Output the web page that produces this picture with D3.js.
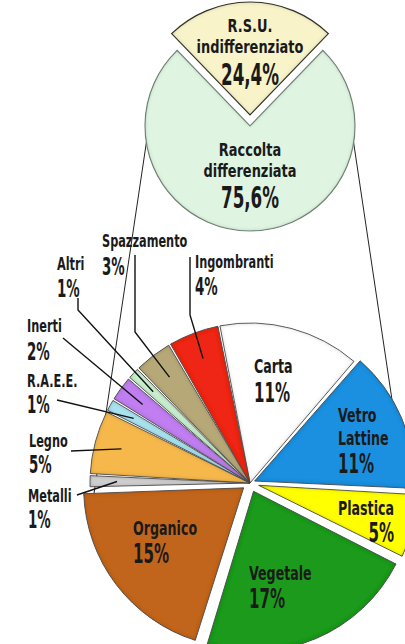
<!DOCTYPE html>
<html>
<head>
<meta charset="utf-8">
<script src="https://cdn.jsdelivr.net/npm/d3@7"></script>
<style>
  body { margin: 0; background: #fff; }
  svg { display: block; }
  text { font-family: "DejaVu Sans Condensed", "DejaVu Sans", sans-serif; font-weight: bold; fill: #1a1a1a; }
</style>
</head>
<body>
<svg width="405" height="644"></svg>
<script>
var svg = d3.select("svg"),
    width = +svg.attr("width"),
    height = +svg.attr("height");

// top pie: total waste
var topNames = [["R.S.U.", "indifferenziato"], ["Raccolta", "differenziata"]];
var topValues = [24.4, 75.6];
var topPct = ["24,4%", "75,6%"];
var topColors = ["#f8f3c8", "#dff5e2"];

// bottom pie: breakdown of raccolta differenziata (% of total)
var categories = ["Carta", "Vetro Lattine", "Plastica", "Vegetale", "Organico", "Metalli",
                  "Legno", "R.A.E.E.", "Inerti", "Altri", "Spazzamento", "Ingombranti"];
var values = [11, 11, 5, 17, 15, 1, 5, 1, 2, 1, 3, 4];
var colors = ["#ffffff", "#1e90e0", "#ffff00", "#1a9a1a", "#c2651f", "#cfcfcf",
              "#f6b84c", "#a9e3f0", "#c07ef0", "#c9efcf", "#b7a878", "#ef2814"];

var topC = {x: 250, y: 126}, topR = 105;
var botC = {x: 250, y: 483}, botR = 160;
var deg = Math.PI / 180;

// how far some slices are pulled out
var explode = [0, 5, 9, 9, 8, 0, 0, 0, 0, 0, 0, 0];

// the font in the picture is a narrow DIN-like face: squeeze text horizontally
var nameSqueeze = 0.74, pctSqueeze = 0.62;

function putText(sel, x, y, size, squeeze, str) {
  sel.append("text")
    .attr("transform", "translate(" + x + "," + y + ") scale(" + squeeze + ",1)")
    .attr("font-size", size)
    .text(str);
}

var defs = svg.append("defs");
var f = defs.append("filter").attr("id", "bevel")
    .attr("x", "-5%").attr("y", "-5%").attr("width", "110%").attr("height", "110%");
f.append("feGaussianBlur").attr("in", "SourceAlpha").attr("stdDeviation", 2.2).attr("result", "blur");
f.append("feComposite").attr("in", "SourceAlpha").attr("in2", "blur")
    .attr("operator", "arithmetic").attr("k2", 1).attr("k3", -1).attr("result", "edge");
f.append("feFlood").attr("flood-color", "#000").attr("flood-opacity", 0.5);
f.append("feComposite").attr("in2", "edge").attr("operator", "in").attr("result", "shade");
var fm = f.append("feMerge");
fm.append("feMergeNode").attr("in", "SourceGraphic");
fm.append("feMergeNode").attr("in", "shade");

// connector lines (outer tangents between both circles), a bit longer at the top
var dist = botC.y - topC.y;
var th = Math.asin((botR - topR) / dist);
[-1, 1].forEach(function(s) {
  var nx = s * Math.cos(th), ny = Math.sin(th);
  var dx = -s * Math.sin(th) * -1, dy = Math.cos(th);
  var x1 = topC.x + nx * topR, y1 = topC.y + ny * topR;
  svg.append("line")
    .attr("x1", x1 - s * Math.sin(th) * 26).attr("y1", y1 - dy * 26)
    .attr("x2", botC.x + nx * botR).attr("y2", botC.y + ny * botR)
    .attr("stroke", "#222").attr("stroke-width", 1);
});

// top pie
var rsuAngle = 360 * topValues[0] / 100;
var topPie = d3.pie().sort(null)
    .startAngle(-rsuAngle / 2 * deg)
    .endAngle((360 - rsuAngle / 2) * deg);
var topRadius = [113, topR];
var topExplode = [11, 0];

svg.append("g")
    .attr("transform", "translate(" + topC.x + "," + topC.y + ")")
  .selectAll("path")
  .data(topPie(topValues))
  .enter().append("path")
    .attr("d", function(d, i) {
      return d3.arc().innerRadius(0).outerRadius(topRadius[i])(d);
    })
    .attr("transform", function(d, i) {
      var a = (d.startAngle + d.endAngle) / 2;
      return "translate(" + (topExplode[i] * Math.sin(a)) + "," + (-topExplode[i] * Math.cos(a)) + ")";
    })
    .attr("fill", function(d, i) { return topColors[i]; })
    .attr("stroke", function(d, i) { return i ? "#7d8f80" : "#3a3a30"; })
    .attr("stroke-width", 1.2)
    .attr("filter", "url(#bevel)");

var topText = svg.append("g").attr("text-anchor", "middle");
putText(topText, topC.x, 32, 18, 0.8, topNames[0][0]);
putText(topText, topC.x, 53, 18, 0.8, topNames[0][1]);
putText(topText, topC.x, 85, 30, pctSqueeze, topPct[0]);
putText(topText, topC.x, 156, 18, 0.8, topNames[1][0]);
putText(topText, topC.x, 177, 18, 0.8, topNames[1][1]);
putText(topText, topC.x, 208, 30, pctSqueeze, topPct[1]);

// bottom pie
var start = -11.2 * deg;
var pie = d3.pie().sort(null).startAngle(start).endAngle(start + 2 * Math.PI);
var arc = d3.arc().innerRadius(0).outerRadius(botR).padAngle(0.013).padRadius(botR);
var leaderArc = d3.arc().innerRadius(133).outerRadius(133);
var slices = pie(values);

var gBot = svg.append("g")
    .attr("transform", "translate(" + botC.x + "," + botC.y + ")");

gBot.selectAll("path")
  .data(slices)
  .enter().append("path")
    .attr("d", arc)
    .attr("transform", function(d, i) {
      var a = (d.startAngle + d.endAngle) / 2;
      return "translate(" + (explode[i] * Math.sin(a)) + "," + (-explode[i] * Math.cos(a)) + ")";
    })
    .attr("fill", function(d, i) { return colors[i]; })
    .attr("stroke", "#555")
    .attr("stroke-width", 0.9)
    .attr("filter", "url(#bevel)");

// label layout: name line(s) + percentage
var labels = [
  {i: 0, x: 254, y: [373, 402], big: true},
  {i: 1, x: 338, y: [422, 445, 473], big: true},
  {i: 2, x: 394, y: [515, 542], big: true, anchor: "end"},
  {i: 3, x: 249, y: [580, 608], big: true},
  {i: 4, x: 133, y: [535, 563], big: true},
  {i: 5, x: 28, y: [502, 528], lead: [[77, 495]]},
  {i: 6, x: 29, y: [447, 473], lead: [[71, 451]]},
  {i: 7, x: 27, y: [387, 413], lead: [[57, 400]]},
  {i: 8, x: 27, y: [332, 360], lead: [[63, 338]]},
  {i: 9, x: 57, y: [270, 297], lead: [[78, 298], [78, 310]]},
  {i: 10, x: 102, y: [247, 275], lead: [[135, 255], [135, 332]]},
  {i: 11, x: 195, y: [268, 295], lead: [[190, 257], [190, 315]]}
];

var line = d3.line();
labels.filter(function(d) { return d.lead; }).forEach(function(d) {
  var c = leaderArc.centroid(slices[d.i]);
  var pts = d.lead.concat([[botC.x + c[0], botC.y + c[1]]]);
  svg.append("path")
    .attr("d", line(pts))
    .attr("fill", "none")
    .attr("stroke", "#111")
    .attr("stroke-width", 1.4);
});

labels.forEach(function(d) {
  var words = categories[d.i].split(" ");
  var rows = words.concat([values[d.i] + "%"]);
  var g = svg.append("g").attr("text-anchor", d.anchor || "start");
  rows.forEach(function(r, k) {
    var isPct = k == rows.length - 1;
    var size = d.big ? (isPct ? 27 : 19) : (isPct ? 24 : 17);
    putText(g, d.x, d.y[k], size, isPct ? pctSqueeze : nameSqueeze, r);
  });
});
</script>
</body>
</html>
